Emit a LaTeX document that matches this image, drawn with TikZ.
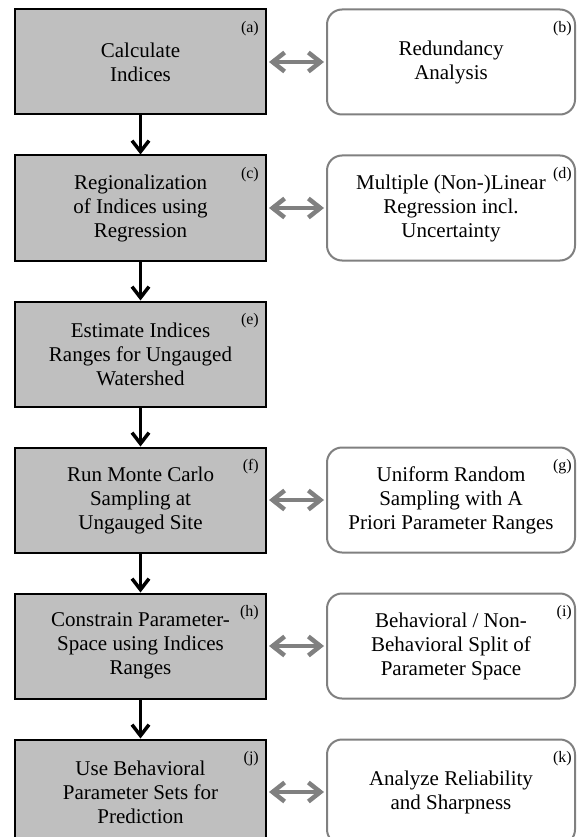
\documentclass[tikz,border=0pt]{standalone}
\usepackage{fontspec}
\setmainfont{Liberation Serif}
\usetikzlibrary{arrows.meta}
\definecolor{boxgray}{RGB}{191,191,191}
\definecolor{linegray}{RGB}{128,128,128}

\begin{document}
\begin{tikzpicture}[x=1pt,y=1pt,
    task/.style={draw=black,line width=2pt,fill=boxgray,minimum width=251pt,minimum height=105pt,
        inner sep=0pt,align=center,font=\fontsize{21}{24}\selectfont},
    aside/.style={draw=linegray,line width=2pt,fill=white,rounded corners=15pt,minimum width=248pt,
        minimum height=105pt,inner sep=0pt,align=center,font=\fontsize{21}{24}\selectfont},
    tag/.style={anchor=north east,inner sep=0pt,font=\fontsize{16}{18}\selectfont},
    flow/.style={line width=3.5pt,-{Straight Barb[length=11pt,width=17pt]}},
    link/.style={line width=4.5pt,draw=linegray,{Straight Barb[length=12pt,width=19pt]}-{Straight Barb[length=12pt,width=19pt]},
        shorten <=2pt,shorten >=2pt}]
\useasboundingbox (0,0) rectangle (577,-837);
%\fill[white] (0,0) rectangle (577,-837);
\begin{scope}
    \node[task] (a) at (140.5,-62) {Calculate\\Indices};
    \node[task] (c) at (140.5,-208) {Regionalization\\of Indices using\\Regression};
    \node[task] (e) at (140.5,-354) {Estimate Indices\\Ranges for Ungauged\\Watershed};
    \node[task] (f) at (140.5,-500) {Run Monte Carlo\\Sampling at\\Ungauged Site};
    \node[task] (h) at (140.5,-646) {Constrain Parameter-\\Space using Indices\\Ranges};
    \node[task] (j) at (140.5,-792) {Use Behavioral\\Parameter Sets for\\Prediction};

    \node[aside] (b) at (451,-62) {Redundancy\\Analysis};
    \node[aside] (d) at (451,-208) {Multiple (Non-)Linear\\Regression incl.\\Uncertainty};
    \node[aside] (g) at (451,-500) {Uniform Random\\Sampling with A\\Priori Parameter Ranges};
    \node[aside] (i) at (451,-646) {Behavioral / Non-\\Behavioral Split of\\Parameter Space};
    \node[aside] (k) at (451,-792) {Analyze Reliability\\and Sharpness};

    \node[tag] (ta) at ([shift={(-8,-13)}]a.north east) {(a)};
    \node[tag] (tc) at ([shift={(-8,-13)}]c.north east) {(c)};
    \node[tag] (te) at ([shift={(-8,-13)}]e.north east) {(e)};
    \node[tag] (tf) at ([shift={(-8,-13)}]f.north east) {(f)};
    \node[tag] (th) at ([shift={(-8,-13)}]h.north east) {(h)};
    \node[tag] (tj) at ([shift={(-8,-13)}]j.north east) {(j)};
    \node[tag] (tb) at ([shift={(-4,-13)}]b.north east) {(b)};
    \node[tag] (td) at ([shift={(-4,-13)}]d.north east) {(d)};
    \node[tag] (tg) at ([shift={(-4,-13)}]g.north east) {(g)};
    \node[tag] (ti) at ([shift={(-4,-13)}]i.north east) {(i)};
    \node[tag] (tk) at ([shift={(-4,-13)}]k.north east) {(k)};

    \path [flow] (a) edge (c);
    \path [flow] (c) edge (e);
    \path [flow] (e) edge (f);
    \path [flow] (f) edge (h);
    \path [flow] (h) edge (j);

    \path [link] (a) edge (b);
    \path [link] (c) edge (d);
    \path [link] (f) edge (g);
    \path [link] (h) edge (i);
    \path [link] (j) edge (k);
\end{scope}
\end{tikzpicture}
\end{document}
